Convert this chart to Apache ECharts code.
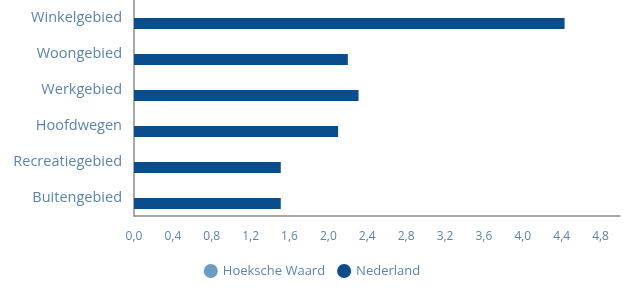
<!DOCTYPE html>
<html>
<head>
<meta charset="utf-8">
<script src="https://cdn.jsdelivr.net/npm/echarts@6/dist/echarts.min.js"></script>
<style>
  html, body { margin: 0; padding: 0; background: #fff; }
  #chart { width: 624px; height: 289px; }
</style>
</head>
<body>
<div id="chart"></div>
<script>
// categorieen van boven naar beneden
var categories = ['Winkelgebied', 'Woongebied', 'Werkgebied', 'Hoofdwegen', 'Recreatiegebied', 'Buitengebied'];
var seriesNames = ['Hoeksche Waard', 'Nederland'];
// Hoeksche Waard: geen balken zichtbaar
var hoekscheWaard = [null, null, null, null, null, null];
var nederland = [4.43, 2.2, 2.31, 2.1, 1.51, 1.51];
// as loopt door tot 5,0 maar labels stoppen bij 4,8
var xTicks = { min: 0, max: 5.0, interval: 0.4, lastLabel: 4.8 };

var labelColor = '#5b84ad';

var option = {
    animation: false,
    textStyle: { fontFamily: 'Open Sans' },
    grid: { left: 134, right: 4, top: 0, bottom: 73 },
    legend: {
        bottom: 6,
        left: 'center',
        icon: 'circle',
        itemWidth: 14,
        itemHeight: 14,
        itemGap: 12,
        textStyle: { color: labelColor, fontSize: 13, fontFamily: 'Open Sans' },
        data: seriesNames
    },
    xAxis: {
        type: 'value',
        min: xTicks.min,
        max: xTicks.max,
        interval: xTicks.interval,
        axisLine: { show: true, lineStyle: { color: '#8c8c8c', width: 1.5 } },
        axisTick: { show: false },
        splitLine: { show: false },
        axisLabel: {
            color: labelColor,
            fontSize: 12,
            margin: 15,
            showMaxLabel: false,
            formatter: function (v) {
                if (v > xTicks.lastLabel + 0.001) return '';
                return v.toFixed(1).replace('.', ',');
            }
        }
    },
    yAxis: {
        type: 'category',
        inverse: true,
        data: categories,
        axisLine: { show: true, lineStyle: { color: '#8c8c8c', width: 1.5 } },
        axisTick: { show: false },
        axisLabel: { color: labelColor, fontSize: 14.5, margin: 12 }
    },
    series: [
        {
            name: seriesNames[0],
            type: 'bar',
            data: hoekscheWaard,
            barWidth: 11,
            barGap: '0%',
            itemStyle: { color: '#6b9cc6' }
        },
        {
            name: seriesNames[1],
            type: 'bar',
            data: nederland,
            barWidth: 11,
            barGap: '0%',
            itemStyle: { color: '#0a4d8c' }
        }
    ]
};

var myChart = echarts.init(document.getElementById('chart'));
myChart.setOption(option);
</script>
</body>
</html>
